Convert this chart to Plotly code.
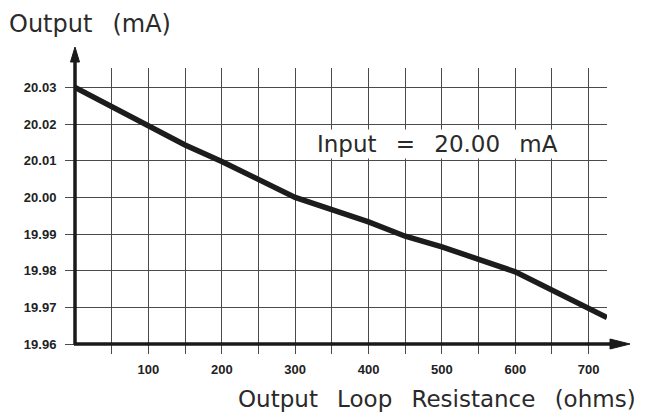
import plotly.graph_objects as go

# ---- data ----
resistance = [0, 50, 100, 150, 200, 300, 400, 450, 500, 600, 725]
output_ma = [20.030, 20.0247, 20.0197, 20.0143, 20.0098, 20.000, 19.9933, 19.9894, 19.9865, 19.9797, 19.9672]
x_tick_vals = [50, 100, 150, 200, 250, 300, 350, 400, 450, 500, 550, 600, 650, 700]
x_tick_text = ["", "100", "", "200", "", "300", "", "400", "", "500", "", "600", "", "700"]
y_tick_vals = [19.96, 19.97, 19.98, 19.99, 20.00, 20.01, 20.02, 20.03]
y_tick_text = ["19.96", "19.97", "19.98", "19.99", "20.00", "20.01", "20.02", "20.03"]

# ---- layout geometry ----
W, H = 646, 414
L, R, T, B = 75, 39, 68, 70
PW, PH = W - L - R, H - T - B
TITLE_FONT = "DejaVu Sans"
NB = "\u00a0"
GAP = NB * 2 + "\u2009"

fig = go.Figure()
fig.add_trace(go.Scatter(
    x=resistance, y=output_ma, mode="lines",
    line=dict(color="#1c1c1c", width=5.5),
    hoverinfo="skip", showlegend=False,
))

tickfont = dict(family="Liberation Sans", size=13, color="#222", weight="bold")
fig.update_layout(
    width=W, height=H,
    margin=dict(l=L, r=R, t=T, b=B, autoexpand=False),
    paper_bgcolor="white", plot_bgcolor="white",
    showlegend=False,
    xaxis=dict(
        range=[0, 725], tickmode="array", tickvals=x_tick_vals, ticktext=x_tick_text,
        showgrid=True, gridcolor="#4a4a4a", gridwidth=1,
        ticks="outside", ticklen=9, tickcolor="#4a4a4a", tickwidth=1,
        tickfont=tickfont, ticklabelstandoff=4, automargin=False,
        showline=False, zeroline=False, fixedrange=True,
    ),
    yaxis=dict(
        range=[19.96, 20.0353], tickmode="array", tickvals=y_tick_vals, ticktext=y_tick_text,
        showgrid=True, gridcolor="#4a4a4a", gridwidth=1,
        ticks="outside", ticklen=9, tickcolor="#4a4a4a", tickwidth=1,
        tickfont=tickfont, ticklabelstandoff=6, automargin=False,
        showline=False, zeroline=False, fixedrange=True,
    ),
)

axis_color = "#1a1a1a"
fig.add_shape(type="path", xref="paper", yref="paper", xsizemode="pixel", ysizemode="pixel",
              xanchor=0, yanchor=0, path="M -1,0 L 540,0",
              line=dict(color=axis_color, width=3.5), layer="above")
fig.add_shape(type="path", xref="paper", yref="paper", xsizemode="pixel", ysizemode="pixel",
              xanchor=1, yanchor=0, path="M 3,-5 L 23,0 L 3,5 Z",
              fillcolor=axis_color, line=dict(color=axis_color, width=1), layer="above")
fig.add_shape(type="path", xref="paper", yref="paper", xsizemode="pixel", ysizemode="pixel",
              xanchor=0, yanchor=0, path="M 0,-1 L 0,284",
              line=dict(color=axis_color, width=3.5), layer="above")
fig.add_shape(type="path", xref="paper", yref="paper", xsizemode="pixel", ysizemode="pixel",
              xanchor=0, yanchor=0, path="M -4.5,282 L 0,297 L 4.5,282 Z",
              fillcolor=axis_color, line=dict(color=axis_color, width=1), layer="above")

title_font = dict(family=TITLE_FONT, size=23, color="#2a2a2a")
fig.add_annotation(text="Output" + GAP + "(mA)", xref="paper", yref="paper",
                   x=(7 - L) / PW, y=1 + (T - 24) / PH,
                   xanchor="left", yanchor="middle", showarrow=False,
                   font=dict(family=TITLE_FONT, size=24, color="#2a2a2a"))
fig.add_annotation(text="Output" + GAP + "Loop" + GAP + "Resistance" + GAP + "(ohms)",
                   xref="paper", yref="paper",
                   x=(638 - L) / PW, y=-(399 - (H - B)) / PH,
                   xanchor="right", yanchor="middle", showarrow=False, font=title_font)
fig.add_annotation(text="Input" + GAP + "=" + GAP + "20.00" + GAP + "mA",
                   xref="paper", yref="paper",
                   x=(437 - L) / PW, y=1 - (144 - T) / PH,
                   xanchor="center", yanchor="middle", showarrow=False,
                   font=title_font, bgcolor="white")

fig.write_html("out.html", config={"displayModeBar": False},
               post_script="document.body.style.margin='0px';")
